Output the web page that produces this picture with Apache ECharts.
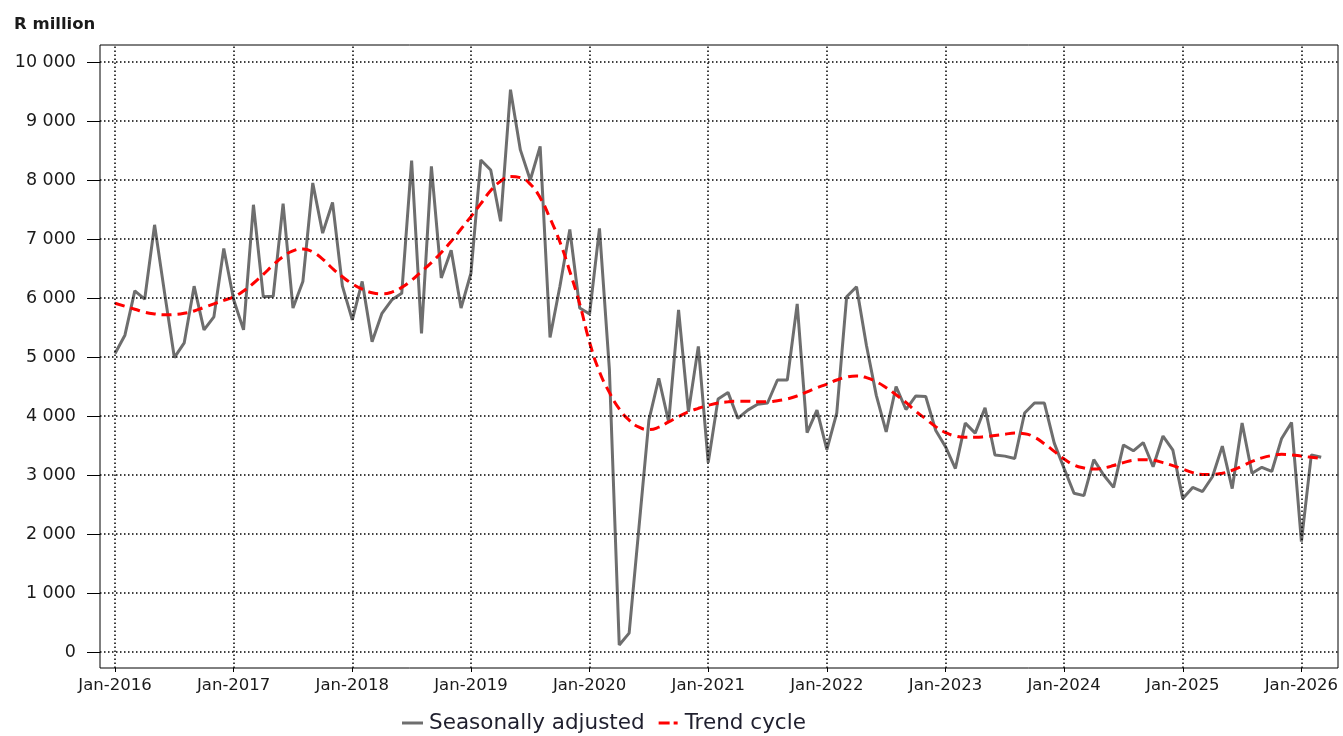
<!DOCTYPE html>
<html>
<head>
<meta charset="utf-8">
<script src="https://cdn.jsdelivr.net/npm/echarts@6/dist/echarts.min.js"></script>
<style>
html,body{margin:0;padding:0;background:#fff;}
#chart{width:1343px;height:736px;}
</style>
</head>
<body>
<div id="chart"></div>
<script>
// Monthly data, Jan-2016 .. Mar-2026
const startYear = 2016;
const seasonallyAdjusted = [
  5060, 5370, 6120, 5980, 7240, 6100, 4990, 5240, 6200, 5460, 5680, 6840,
  5970, 5460, 7580, 6020, 6030, 7600, 5830, 6280, 7950, 7100, 7620, 6200,
  5630, 6280, 5260, 5740, 5970, 6080, 8330, 5400, 8230, 6340, 6810, 5830,
  6420, 8340, 8170, 7300, 9530, 8510, 8000, 8570, 5330, 6200, 7160, 5830,
  5730, 7180, 4800, 120, 320, 2120, 3930, 4640, 3900, 5800, 4070, 5180,
  3210, 4290, 4400, 3960, 4100, 4200, 4220, 4610, 4610, 5900, 3720, 4100,
  3430, 4050, 6020, 6190, 5200, 4350, 3730, 4500, 4110, 4340, 4330, 3760,
  3480, 3110, 3880, 3710, 4140, 3340, 3320, 3280, 4050, 4220, 4220, 3540,
  3110, 2690, 2650, 3260, 3000, 2790, 3510, 3410, 3550, 3140, 3660, 3420,
  2600, 2790, 2720, 2970, 3490, 2770, 3880, 3030, 3130, 3060, 3620, 3890,
  1870, 3340, 3300
];
const trendCycle = [
  5910, 5860, 5810, 5760, 5730, 5715, 5720, 5740, 5780, 5840, 5900, 5960,
  6020, 6120, 6250, 6400, 6560, 6700, 6800, 6830, 6780, 6660, 6500, 6360,
  6240, 6150, 6090, 6070, 6100, 6180, 6300, 6450, 6600, 6770, 6960, 7170,
  7380, 7600, 7820, 7980, 8060, 8040, 7930, 7700, 7350, 6950, 6450, 5900,
  5250, 4750, 4400, 4120, 3930, 3810, 3770, 3810, 3900, 3990, 4070, 4130,
  4180, 4220, 4240, 4250, 4250, 4240, 4240, 4260, 4290, 4340, 4410, 4480,
  4540, 4610, 4660, 4680, 4650, 4580, 4480, 4360, 4230, 4080, 3950, 3820,
  3720, 3660, 3640, 3640, 3650, 3670, 3690, 3710, 3700, 3640, 3530, 3400,
  3270, 3170, 3120, 3100, 3120, 3160, 3210, 3250, 3260, 3250, 3210, 3160,
  3100, 3040, 3010, 3010, 3030, 3080, 3150, 3230, 3290, 3330, 3350, 3340,
  3320, 3300, 3280
];
const xTickLabels = ['Jan-2016','Jan-2017','Jan-2018','Jan-2019','Jan-2020','Jan-2021',
                     'Jan-2022','Jan-2023','Jan-2024','Jan-2025','Jan-2026'];
const yTickValues = [0,1000,2000,3000,4000,5000,6000,7000,8000,9000,10000];

const xTickIdx = xTickLabels.map((_, i) => i * 12);
const saData = seasonallyAdjusted.map((v, i) => [i, v]);
const tcData = trendCycle.map((v, i) => [i, v]);
const fmtY = v => String(v).replace(/\B(?=(\d{3})+(?!\d))/g, ' ');
const FONT = "'DejaVu Sans', Verdana, sans-serif";
const GREY = '#6e6e6e';
const RED = '#ff0000';

const chart = echarts.init(document.getElementById('chart'), null, {renderer: 'canvas'});
chart.setOption({
  animation: false,
  backgroundColor: '#fff',
  title: {
    text: 'R million', left: 9, top: 11,
    textStyle: {fontFamily: FONT, fontSize: 16.5, fontWeight: 'bold', color: '#1a1a1a'}
  },
  grid: {
    left: 100, right: 5, top: 45, bottom: 68,
    show: true, borderColor: '#000', borderWidth: 1, backgroundColor: 'transparent'
  },
  legend: {
    bottom: -3, left: 397,
    itemWidth: 21, itemHeight: 3, itemGap: 14,
    textStyle: {fontFamily: FONT, fontSize: 21.5, color: '#1f1f2e', padding: [0, 0, 0, 1]},
    data: [
      {name: 'Seasonally adjusted', icon: 'rect'},
      {name: 'Trend cycle', icon: 'path://M0,0h11v3h-11z M15,0h4v3h-4z'}
    ]
  },
  xAxis: {
    type: 'value', min: -1.52, max: 123.7,
    axisLine: {show: false, onZero: false},
    splitLine: {show: false},
    axisTick: {show: true, customValues: xTickIdx, length: 4, lineStyle: {color: '#000'}},
    axisLabel: {
      customValues: xTickIdx,
      formatter: v => xTickLabels[Math.round(v / 12)] || '',
      fontFamily: FONT, fontSize: 16.5, color: '#1a1a1a', margin: 9
    }
  },
  yAxis: {
    type: 'value', min: -271, max: 10288,
    axisLine: {show: false, onZero: false},
    splitLine: {show: false},
    axisTick: {show: true, customValues: yTickValues, length: 13, lineStyle: {color: '#000', width: 1}},
    axisLabel: {
      customValues: yTickValues,
      formatter: fmtY,
      fontFamily: FONT, fontSize: 17.5, color: '#1a1a1a', margin: 24
    }
  },
  series: [
    {
      name: 'grid', type: 'line', data: [], z: 1, silent: true,
      markLine: {
        silent: true, symbol: 'none', animation: false,
        label: {show: false},
        lineStyle: {color: '#000', type: [1.5, 2.5], width: 1.5},
        data: xTickIdx.map(v => ({xAxis: v})).concat(yTickValues.map(v => ({yAxis: v})))
      }
    },
    {
      name: 'Seasonally adjusted', type: 'line', data: saData, z: 3,
      symbol: 'none', showSymbol: false,
      lineStyle: {color: GREY, width: 3},
      itemStyle: {color: GREY}
    },
    {
      name: 'Trend cycle', type: 'line', data: tcData, z: 4,
      symbol: 'none', showSymbol: false, smooth: true,
      lineStyle: {color: RED, width: 3, type: [10, 6]},
      itemStyle: {color: RED}
    }
  ]
});
</script>
</body>
</html>
